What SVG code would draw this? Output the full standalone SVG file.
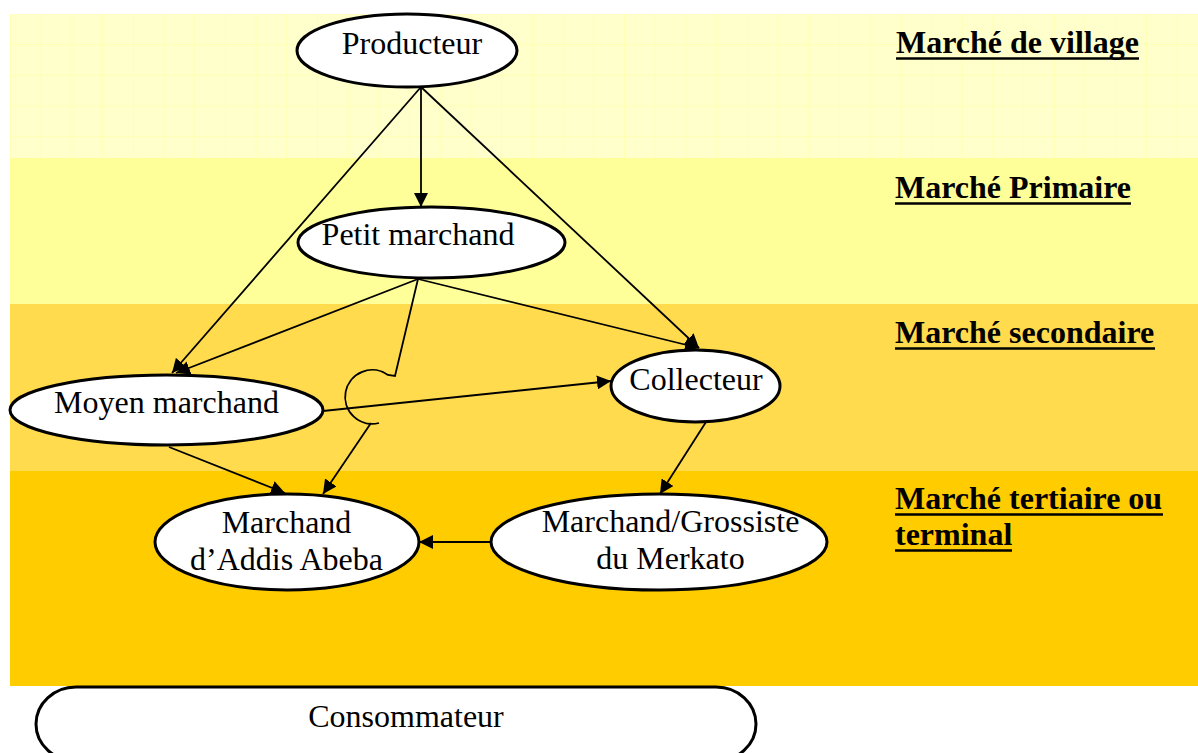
<svg xmlns="http://www.w3.org/2000/svg" width="1198" height="753" viewBox="0 0 1198 753">
  <defs>
    <pattern id="grid" x="11" y="14.3" width="30.7" height="30.7" patternUnits="userSpaceOnUse">
      <rect width="30.7" height="30.7" fill="#FFFFCC"/>
      <path d="M30.7,0 V30.7 M0,30.7 H30.7" stroke="#FFFF9E" stroke-width="1" fill="none"/>
    </pattern>
    <marker id="arrow" markerUnits="userSpaceOnUse" markerWidth="15" markerHeight="14" refX="14" refY="7" orient="auto">
      <path d="M0,0 L14,7 L0,14 z" fill="#000"/>
    </marker>
  </defs>
  <style>
    .node { fill: #fff; stroke: #000; stroke-width: 3; }
    .label { font-family: "Liberation Serif", "Times New Roman", serif; font-size: 32px; fill: #000; }
    .band { font-family: "Liberation Serif", "Times New Roman", serif; font-size: 32px; font-weight: bold; fill: #000; }
    .uline { stroke: #000; stroke-width: 2.6; }
    .edge { fill: none; stroke: #000; stroke-width: 1.8; marker-end: url(#arrow); }
  </style>

  <!-- market level bands -->
  <g id="bands">
    <rect x="10" y="14" width="1188" height="144" fill="url(#grid)"/>
    <rect x="10" y="158" width="1188" height="146" fill="#FFFF99"/>
    <rect x="10" y="304" width="1188" height="167" fill="#FFDB4D"/>
    <rect x="10" y="471" width="1188" height="215" fill="#FFCC00"/>
  </g>

  <!-- band titles -->
  <g id="band-labels">
    <text class="band" x="896" y="53">Marché de village</text>
    <line class="uline" x1="896" y1="58.5" x2="1139" y2="58.5"/>
    <text class="band" x="895" y="198">Marché Primaire</text>
    <line class="uline" x1="895" y1="203.5" x2="1131" y2="203.5"/>
    <text class="band" x="895" y="343">Marché secondaire</text>
    <line class="uline" x1="895" y1="348.5" x2="1155" y2="348.5"/>
    <text class="band" x="895" y="509">Marché tertiaire ou</text>
    <line class="uline" x1="895" y1="514.5" x2="1163" y2="514.5"/>
    <text class="band" x="895" y="545">terminal</text>
    <line class="uline" x1="895" y1="550.5" x2="1012" y2="550.5"/>
  </g>

  <!-- connectors -->
  <g id="connectors">
    <path class="edge" d="M421,87 L421,207"/>
    <path class="edge" d="M421,87 L172,373"/>
    <path class="edge" d="M421,87 L699,348"/>
    <path class="edge" d="M418,279 L176,373"/>
    <path class="edge" d="M418,279 L699,348"/>
    <path d="M418,279 L395,376 L388,375 A27,27 0 1,0 379,423" fill="none" stroke="#000" stroke-width="1.8"/>
    <path class="edge" d="M371,423 L323,494"/>
    <path class="edge" d="M323,411 L611,381"/>
    <path class="edge" d="M169,447 L285,493"/>
    <path class="edge" d="M706,422 L660,494"/>
    <path class="edge" d="M491,542 L419,542"/>
  </g>

  <g id="producteur">
    <ellipse class="node" cx="407" cy="50.5" rx="110" ry="36.5"/>
    <text class="label" x="412" y="54" text-anchor="middle">Producteur</text>
  </g>

  <g id="petit-marchand">
    <ellipse class="node" cx="431.5" cy="242.5" rx="133.5" ry="35.5"/>
    <text class="label" x="418" y="245" text-anchor="middle">Petit marchand</text>
  </g>

  <g id="moyen-marchand">
    <ellipse class="node" cx="166.5" cy="410" rx="156.5" ry="35"/>
    <text class="label" x="166.5" y="413" text-anchor="middle">Moyen marchand</text>
  </g>

  <g id="collecteur">
    <ellipse class="node" cx="695.5" cy="386" rx="84.5" ry="36"/>
    <text class="label" x="696" y="390" text-anchor="middle">Collecteur</text>
  </g>

  <g id="marchand-addis">
    <ellipse class="node" cx="287" cy="542" rx="132" ry="48"/>
    <text class="label" x="286.5" y="533" text-anchor="middle">Marchand</text>
    <text class="label" x="286.5" y="570" text-anchor="middle">d’Addis Abeba</text>
  </g>

  <g id="grossiste-merkato">
    <ellipse class="node" cx="659" cy="542" rx="168" ry="48"/>
    <text class="label" x="670.5" y="532" text-anchor="middle">Marchand/Grossiste</text>
    <text class="label" x="670.5" y="569" text-anchor="middle">du Merkato</text>
  </g>

  <g id="consommateur">
    <rect class="node" x="36" y="687" width="720" height="74" rx="40" ry="37"/>
    <text class="label" x="406" y="727" text-anchor="middle">Consommateur</text>
  </g>
</svg>
